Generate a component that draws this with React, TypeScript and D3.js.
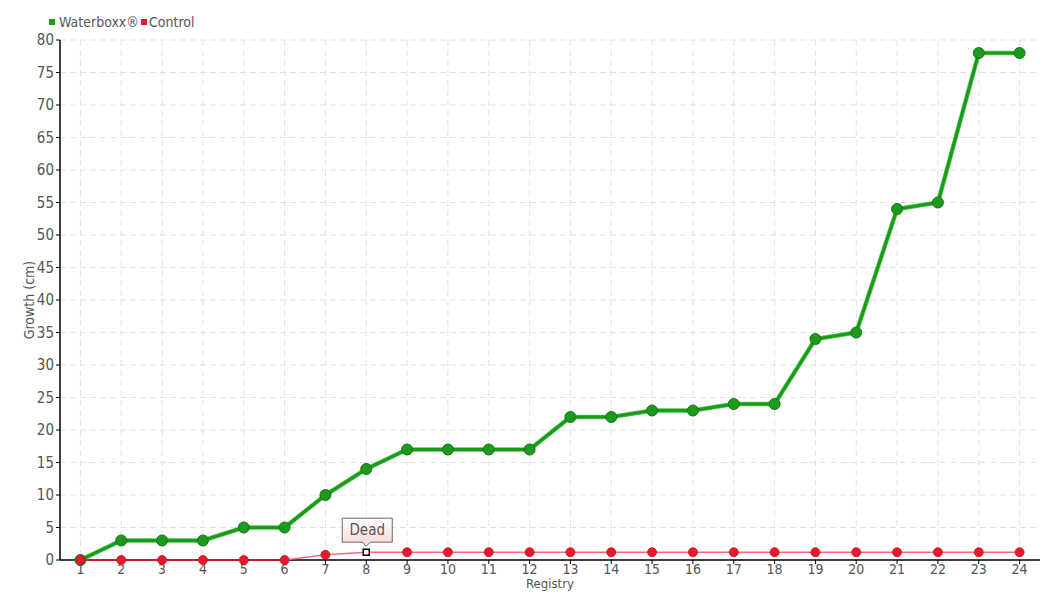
import React from "react";
import * as d3 from "d3";

const categories = ["1","2","3","4","5","6","7","8","9","10","11","12","13","14","15","16","17","18","19","20","21","22","23","24"];
const waterboxx = [0,3,3,3,5,5,10,14,17,17,17,17,22,22,23,23,24,24,34,35,54,55,78,78];
const control = [0,0,0,0,0,0,0.8,1.2,1.2,1.2,1.2,1.2,1.2,1.2,1.2,1.2,1.2,1.2,1.2,1.2,1.2,1.2,1.2,1.2];
const yTicks = [0,5,10,15,20,25,30,35,40,45,50,55,60,65,70,75,80];
const deadIndex = 7;

const FONT = "'Liberation Sans Narrow','DejaVu Sans Condensed','Roboto',sans-serif";

export default function App() {
  const W = 1060, H = 600;
  const left = 60, right = 1040, top = 40, bottom = 560;
  const x = d3.scalePoint<string>().domain(categories).range([left, right]).padding(0.5);
  const y = d3.scaleLinear().domain([0, 80]).range([bottom, top]);
  const line = d3.line<number>().x((_, i) => x(categories[i])!).y(d => y(d));
  const ctrlA = control.slice(0, 6);
  const ctrlB = control.slice(5);
  const lineB = d3.line<number>().x((_, i) => x(categories[i + 5])!).y(d => y(d));
  const dx = x(categories[deadIndex])!;
  const dy = y(control[deadIndex]);
  return (
    <svg width={W} height={H} style={{ position: "absolute", left: 0, top: 0, fontFamily: FONT }}>
      <rect width={W} height={H} fill="#fff" />
      {yTicks.map(t => (
        <line key={"gy" + t} x1={left} x2={right} y1={y(t)} y2={y(t)} stroke="#e2e2e2" strokeDasharray="6,4" />
      ))}
      {categories.map(c => (
        <line key={"gx" + c} x1={x(c)} x2={x(c)} y1={top} y2={bottom} stroke="#e2e2e2" strokeDasharray="6,4" />
      ))}
      <line x1={left} x2={left} y1={top} y2={bottom} stroke="#000" strokeWidth={1.5} />
      <line x1={left} x2={right} y1={bottom} y2={bottom} stroke="#000" strokeWidth={1.5} />
      {yTicks.map(t => (
        <g key={"yt" + t}>
          <line x1={left - 4} x2={left} y1={y(t)} y2={y(t)} stroke="#000" />
          <text x={left - 6} y={y(t)} dy="0.35em" textAnchor="end" fontSize={15} fill="#555">{t}</text>
        </g>
      ))}
      {categories.map(c => (
        <g key={"xt" + c}>
          <line x1={x(c)} x2={x(c)} y1={bottom} y2={bottom + 4} stroke="#000" />
          <text x={x(c)} y={bottom + 14} textAnchor="middle" fontSize={14} fill="#555">{c}</text>
        </g>
      ))}
      <text x={550} y={588} textAnchor="middle" fontSize={13} fill="#555">Registry</text>
      <text transform={`translate(34,${(top + bottom) / 2}) rotate(-90)`} textAnchor="middle" fontSize={14} fill="#555">Growth (cm)</text>
      <path d={line(ctrlA)!} fill="none" stroke="#e8192c" strokeWidth={1.5} />
      <path d={lineB(ctrlB)!} fill="none" stroke="#f46a78" strokeWidth={1.5} />
      <path d={line(waterboxx)!} fill="none" stroke="#5cc45c" strokeWidth={4.5} />
      <path d={line(waterboxx)!} fill="none" stroke="#179c17" strokeWidth={3} />
      {waterboxx.map((v, i) => (
        <circle key={"w" + i} cx={x(categories[i])} cy={y(v)} r={5.5} fill="#1d9a1d" stroke="#157515" strokeWidth={1} />
      ))}
      {control.map((v, i) => i === deadIndex ? (
        <rect key={"c" + i} x={x(categories[i])! - 3} y={y(v) - 3} width={6} height={6} fill="#fff" stroke="#000" strokeWidth={1.5} />
      ) : (
        <circle key={"c" + i} cx={x(categories[i])} cy={y(v)} r={4.5} fill="#e8192c" stroke="#c8101f" strokeWidth={0.8} />
      ))}
      <defs>
        <linearGradient id="dg" x1="0" y1="0" x2="0" y2="1">
          <stop offset="0" stopColor="#fff" />
          <stop offset="1" stopColor="#fbd5d5" />
        </linearGradient>
      </defs>
      <path d={`M${dx - 24},${dy - 34} H${dx + 26} V${dy - 10} H${dx + 4} L${dx},${dy - 6} L${dx - 4},${dy - 10} H${dx - 24} Z`} fill="url(#dg)" stroke="#666" strokeWidth={1} />
      <text x={dx + 1} y={dy - 17} textAnchor="middle" fontSize={15} fill="#555">Dead</text>
      <rect x={49} y={19} width={6} height={6} fill="#1d9a1d" />
      <text x={59} y={27} fontSize={14} fill="#555">Waterboxx®</text>
      <rect x={141} y={19} width={6} height={6} fill="#e8192c" />
      <text x={149} y={27} fontSize={14} fill="#555">Control</text>
    </svg>
  );
}
